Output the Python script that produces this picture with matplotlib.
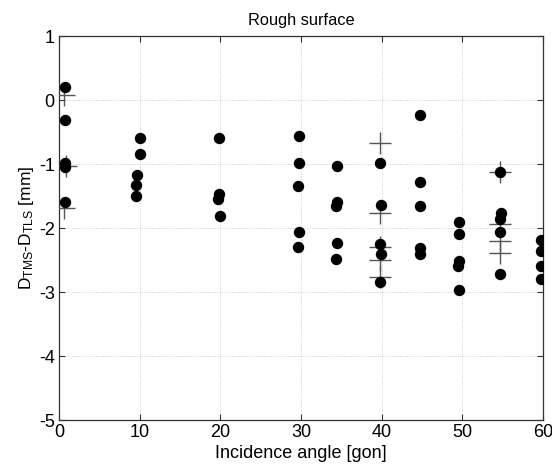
import matplotlib
matplotlib.use("Agg")
import matplotlib.pyplot as plt

plt.rcParams['font.family'] = ['Liberation Sans', 'DejaVu Sans']
plt.rcParams['mathtext.default'] = 'regular'
plt.rcParams['axes.unicode_minus'] = False

# Measured points (incidence angle [gon], D_TMS - D_TLS [mm])
dot_x = [0.75, 0.75, 0.75, 0.8, 0.75,
         10.0, 10.0, 9.7, 9.5, 9.5,
         19.8, 19.8, 19.7, 19.9,
         29.7, 29.7, 29.6, 29.7, 29.6,
         34.5, 34.5, 34.4, 34.5, 34.4,
         39.8, 39.9, 39.8, 39.9, 39.8,
         44.7, 44.7, 44.7, 44.8, 44.7,
         49.6, 49.6, 49.6, 49.5, 49.6,
         54.7, 54.8, 54.7, 54.7, 54.7,
         59.7, 59.7, 59.7, 59.7]
dot_y = [0.21, -0.32, -0.98, -1.04, -1.59,
         -0.60, -0.84, -1.17, -1.33, -1.50,
         -0.60, -1.47, -1.55, -1.81,
         -0.57, -0.98, -1.34, -2.06, -2.29,
         -1.03, -1.60, -1.66, -2.23, -2.49,
         -0.99, -1.64, -2.25, -2.40, -2.85,
         -0.23, -1.28, -1.66, -2.32, -2.41,
         -1.91, -2.09, -2.52, -2.59, -2.97,
         -1.13, -1.77, -1.86, -2.07, -2.72,
         -2.19, -2.36, -2.59, -2.79]

# Cross markers (reference values)
cross_x = [0.6, 0.9, 0.6, 39.8, 39.8, 39.8, 39.8, 39.8, 54.7, 54.7, 54.7, 54.7]
cross_y = [0.08, -1.03, -1.68, -0.67, -1.77, -2.30, -2.50, -2.77,
           -1.13, -1.93, -2.21, -2.39]

xticks = [0, 10, 20, 30, 40, 50, 60]
yticks = [-5, -4, -3, -2, -1, 0, 1]

fig = plt.figure(figsize=(5.52, 4.67), dpi=100)
ax = fig.add_axes([0.1069, 0.1006, 0.8768, 0.8223])

ax.plot(cross_x, cross_y, linestyle='none', marker='+', markersize=16,
        markeredgewidth=1.0, color='#555555', zorder=3)
ax.plot(dot_x, dot_y, linestyle='none', marker='o', markersize=7.2,
        color='black', zorder=4)

ax.set_xlim(0, 60)
ax.set_ylim(-5, 1)
ax.set_xticks(xticks)
ax.set_yticks(yticks)
ax.tick_params(direction='in', top=True, right=True, labelsize=13,
               length=4, width=0.8, color='#333333', pad=3)
ax.grid(True, linestyle=(0, (1, 1.5)), color='#cccccc', linewidth=0.7)
ax.set_axisbelow(True)
for s in ax.spines.values():
    s.set_color('#333333')
    s.set_linewidth(0.9)

ax.set_title('Rough surface', fontsize=11.8, pad=8)
ax.set_xlabel('Incidence angle [gon]', fontsize=13, labelpad=3)
ax.set_ylabel('D$_{TMS}$-D$_{TLS}$ [mm]', fontsize=12.5, labelpad=2)

fig.savefig('out.png', dpi=100)
